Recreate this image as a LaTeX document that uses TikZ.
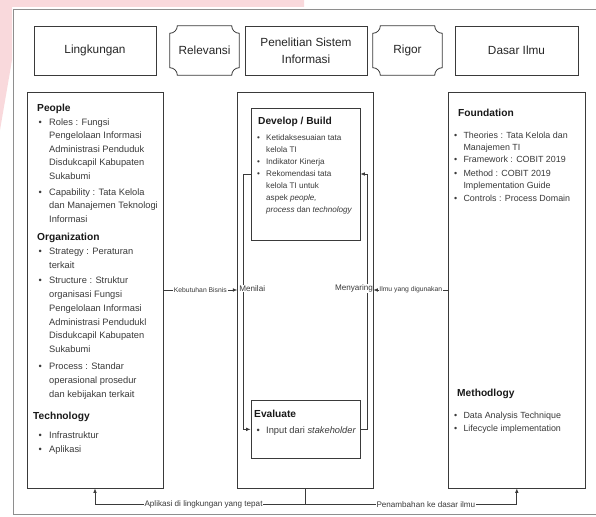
\documentclass[tikz,border=0pt]{standalone}
\usepackage{fontspec}
\setmainfont{Liberation Sans}
\usetikzlibrary{arrows.meta,calc}
\definecolor{boxc}{HTML}{3A3A3A}
\definecolor{framec}{HTML}{8E8E8E}
\definecolor{txtc}{HTML}{3A3A3A}
\definecolor{wmark}{HTML}{F9D9DC}
\newcommand{\hd}[1]{{\fontsize{10.2}{12}\selectfont\bfseries\color{black!90}#1}}
\newcommand{\bi}[2]{\makebox[#2][l]{\hspace{#1}\textbullet}}
\newcommand{\plaquedraw}[1]{%
  \draw[draw=boxc,line width=0.8pt]
    ($(#1.north west)+(7.5,0)$) -- ($(#1.north east)+(-7.5,0)$)
    .. controls ($(#1.north east)+(-7.5,4.14)$) and ($(#1.north east)+(-4.14,7.5)$) .. ($(#1.north east)+(0,7.5)$)
    -- ($(#1.south east)+(0,-7.5)$)
    .. controls ($(#1.south east)+(-4.14,-7.5)$) and ($(#1.south east)+(-7.5,-4.14)$) .. ($(#1.south east)+(-7.5,0)$)
    -- ($(#1.south west)+(7.5,0)$)
    .. controls ($(#1.south west)+(7.5,-4.14)$) and ($(#1.south west)+(4.14,-7.5)$) .. ($(#1.south west)+(0,-7.5)$)
    -- ($(#1.north west)+(0,7.5)$)
    .. controls ($(#1.north west)+(4.14,7.5)$) and ($(#1.north west)+(7.5,4.14)$) .. ($(#1.north west)+(7.5,0)$)
    -- cycle;}
\begin{document}
\begin{tikzpicture}[x=1pt,y=-1pt,
  box/.style={draw=boxc, line width=0.8pt, inner sep=0pt},
  ttl/.style={font=\fontsize{11.8}{17}\selectfont, text=black!85, align=center},
  blk/.style={anchor=base west, inner sep=0pt, text=txtc},
  conn/.style={draw=boxc, line width=0.7pt, -{Latex[length=4.5pt,width=3.6pt]}},
  plain/.style={draw=boxc, line width=0.7pt},
  lbl/.style={fill=white, inner sep=0.8pt, font=\fontsize{6.8}{8}\selectfont, text=txtc},
  blbl/.style={fill=white, inner sep=0.8pt, font=\fontsize{8.1}{10}\selectfont, text=txtc},
]
\useasboundingbox (0,0) rectangle (596,516);
\fill[white] (0,0) rectangle (596,516);
% watermark corner
\fill[wmark] (0,0) -- (304,0) -- (304,7) -- (12,7) -- (12,60) -- (0,130) -- cycle;
% outer frame
\draw[draw=framec, line width=0.8pt] (600,9) -- (13,9) -- (13,514) -- (600,514);

% top row
\node[box, minimum width=122pt, minimum height=49pt, ttl] (lingk) at (95,50.5) {Lingkungan};
\node[inner sep=0pt, minimum width=69pt, minimum height=49pt, ttl] (relev) at (204.5,50.5) {Relevansi};
\plaquedraw{relev}
\node[box, minimum width=122pt, minimum height=49pt, ttl] (penel) at (306,50.5) {Penelitian Sistem\\Informasi};
\node[inner sep=0pt, minimum width=69pt, minimum height=49pt, ttl] (rigor) at (407.5,50.5) {Rigor};
\plaquedraw{rigor}
\node[box, minimum width=123pt, minimum height=49pt, ttl] (dasar) at (516.5,50.5) {Dasar Ilmu};

% big boxes
\node[box, minimum width=136pt, minimum height=396pt] (left) at (95,290) {};
\node[box, minimum width=135.3pt, minimum height=396pt] (mid) at (305.35,290) {};
\node[box, minimum width=136.4pt, minimum height=396pt] (right) at (516.8,290) {};
\node[box, minimum width=109pt, minimum height=132pt] (dev) at (305.5,174) {};
\node[box, minimum width=109pt, minimum height=57.3pt] (eval) at (305.5,429.35) {};

% left box content
\node[blk, font=\fontsize{9.3}{13.5}\selectfont] (ppl) at (37,111.8) {%
\begin{tabular}[t]{@{}l@{}l@{}}
\multicolumn{2}{@{}l@{}}{\hd{People}}\\
\bi{1.5pt}{12pt} & Roles : Fungsi\\
 & Pengelolaan Informasi\\
 & Administrasi Penduduk\\
 & Disdukcapil Kabupaten\\
 & Sukabumi\\[2.5pt]
\bi{1.5pt}{12pt} & Capability : Tata Kelola\\
 & dan Manajemen Teknologi\\
 & Informasi
\end{tabular}};
\node[blk, font=\fontsize{9.3}{13.8}\selectfont] (org) at (37,240.8) {%
\begin{tabular}[t]{@{}l@{}l@{}}
\multicolumn{2}{@{}l@{}}{\hd{Organization}}\\
\bi{1.5pt}{12pt} & Strategy : Peraturan\\
 & terkait\\[1.5pt]
\bi{1.5pt}{12pt} & Structure : Struktur\\
 & organisasi Fungsi\\
 & Pengelolaan Informasi\\
 & Administrasi Pendudukl\\
 & Disdukcapil Kabupaten\\
 & Sukabumi\\[3pt]
\bi{1.5pt}{12pt} & Process : Standar\\
 & operasional prosedur\\
 & dan kebijakan terkait
\end{tabular}};
\node[blk, font=\fontsize{9.3}{14}\selectfont] (tech) at (33,419.8) {%
\begin{tabular}[t]{@{}l@{}l@{}}
\multicolumn{2}{@{}l@{}}{\hd{Technology}}\\[4.6pt]
\bi{5.5pt}{16pt} & Infrastruktur\\
\bi{5.5pt}{16pt} & Aplikasi
\end{tabular}};

% middle content
\node[blk, font=\fontsize{8.1}{12}\selectfont] (devt) at (257,124.7) {%
\begin{tabular}[t]{@{}l@{}l@{}}
\multicolumn{2}{@{}l@{}}{\hspace{1pt}\hd{Develop / Build}}\\[4.2pt]
\bi{0pt}{9pt} & Ketidaksesuaian tata\\
 & kelola TI\\
\bi{0pt}{9pt} & Indikator Kinerja\\
\bi{0pt}{9pt} & Rekomendasi tata\\
 & kelola TI untuk\\
 & aspek \textit{people,}\\
 & \textit{process} dan \textit{technology}
\end{tabular}};
\node[blk, font=\fontsize{9.3}{13.7}\selectfont] (evalt) at (254,417.7) {%
\begin{tabular}[t]{@{}l@{}l@{}}
\multicolumn{2}{@{}l@{}}{\hd{Evaluate}}\\[2pt]
\bi{2.5pt}{12pt} & Input dari \textit{stakeholder}
\end{tabular}};

% right content
\node[blk, font=\fontsize{8.9}{12.3}\selectfont] (fnd) at (454,116.7) {%
\begin{tabular}[t]{@{}l@{}l@{}}
\multicolumn{2}{@{}l@{}}{\hspace{4pt}\hd{Foundation}}\\[9.2pt]
\bi{0pt}{9.3pt} & Theories : Tata Kelola dan\\
 & Manajemen TI\\
\bi{0pt}{9.3pt} & Framework : COBIT 2019\\[1.5pt]
\bi{0pt}{9.3pt} & Method : COBIT 2019\\
 & Implementation Guide\\[0.5pt]
\bi{0pt}{9.3pt} & Controls : Process Domain
\end{tabular}};
\node[blk, font=\fontsize{8.9}{13}\selectfont] (meth) at (454,396.7) {%
\begin{tabular}[t]{@{}l@{}l@{}}
\multicolumn{2}{@{}l@{}}{\hspace{3pt}\hd{Methodlogy}}\\[8.5pt]
\bi{0pt}{9.3pt} & Data Analysis Technique\\
\bi{0pt}{9.3pt} & Lifecycle implementation
\end{tabular}};

% inner loop connectors
\draw[conn] (dev.west) -- ++(-7,0) |- (eval.west);
\draw[conn] (eval.east) -- ++(7,0) |- (dev.east);

% side connectors
\draw[conn] (left.east) -- node[lbl] (kb) {Kebutuhan Bisnis} (mid.west);
\draw[conn] (right.west) -- node[lbl] (iy) {Ilmu yang digunakan} (mid.east);
\node[blbl, anchor=west, inner sep=0.6pt] (menilai) at ($(mid.west)+(1.3,-1.5)$) {Menilai};
\node[blbl, anchor=east, inner sep=0.3pt] (menyaring) at ($(mid.east)+(0,-1.5)$) {Menyaring};

% bottom connectors
\coordinate (bj) at ($(mid.south)+(0,16)$);
\draw[plain] (mid.south) -- (bj);
\draw[conn] (bj) -| node[blbl, pos=0.242] (apl) {Aplikasi di lingkungan yang tepat} (left.south);
\draw[conn] (bj) -| node[blbl, pos=0.285] (pen) {Penambahan ke dasar ilmu} (right.south);
\end{tikzpicture}
\end{document}
